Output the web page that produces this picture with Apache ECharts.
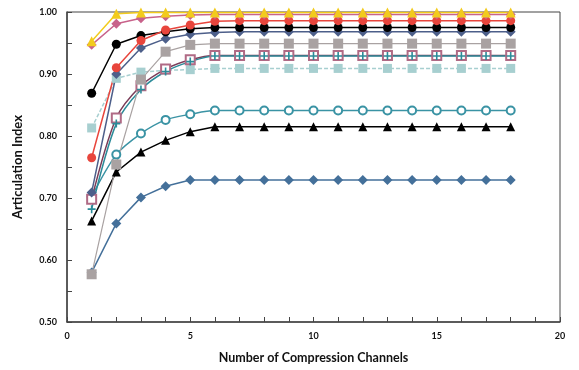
<!DOCTYPE html>
<html>
<head>
<meta charset="utf-8">
<script src="https://cdn.jsdelivr.net/npm/echarts@6/dist/echarts.min.js"></script>
<style>html,body{margin:0;padding:0;background:#fff;}#c{width:579px;height:370px;}</style>
</head>
<body>
<div id="c"></div>
<script>
var channels = [1,2,3,4,5,6,7,8,9,10,11,12,13,14,15,16,17,18];
var yellowTri   = [0.953,0.997,0.999,0.999,0.999,0.999,0.999,0.999,0.999,0.999,0.999,0.999,0.999,0.999,0.999,0.999,0.999,0.999];
var pinkDiamond = [0.947,0.981,0.990,0.993,0.995,0.996,0.996,0.996,0.996,0.996,0.996,0.996,0.996,0.996,0.996,0.996,0.996,0.996];
var redCircle   = [0.765,0.910,0.954,0.971,0.979,0.985,0.986,0.986,0.986,0.986,0.986,0.986,0.986,0.986,0.986,0.986,0.986,0.986];
var blackCircle = [0.869,0.948,0.962,0.968,0.973,0.975,0.975,0.975,0.975,0.975,0.975,0.975,0.975,0.975,0.975,0.975,0.975,0.975];
var slateDiamond= [0.709,0.900,0.942,0.957,0.964,0.967,0.968,0.968,0.968,0.968,0.968,0.968,0.968,0.968,0.968,0.968,0.968,0.968];
var graySquare  = [0.577,0.754,0.891,0.936,0.947,0.949,0.949,0.949,0.949,0.949,0.949,0.949,0.949,0.949,0.949,0.949,0.949,0.949];
var openSquare  = [0.698,0.829,0.881,0.908,0.923,0.930,0.930,0.930,0.930,0.930,0.930,0.930,0.930,0.930,0.930,0.930,0.930,0.930];
var tealPlus    = [0.682,0.820,0.875,0.904,0.920,0.929,0.929,0.929,0.929,0.929,0.929,0.929,0.929,0.929,0.929,0.929,0.929,0.929];
var lightSquare = [0.813,0.893,0.903,0.906,0.907,0.909,0.909,0.909,0.909,0.909,0.909,0.909,0.909,0.909,0.909,0.909,0.909,0.909];
var openCircle  = [0.702,0.770,0.804,0.826,0.835,0.841,0.841,0.841,0.841,0.841,0.841,0.841,0.841,0.841,0.841,0.841,0.841,0.841];
var blackTri    = [0.663,0.742,0.774,0.793,0.807,0.815,0.815,0.815,0.815,0.815,0.815,0.815,0.815,0.815,0.815,0.815,0.815,0.815];
var steelDiamond= [0.580,0.659,0.701,0.719,0.729,0.729,0.729,0.729,0.729,0.729,0.729,0.729,0.729,0.729,0.729,0.729,0.729,0.729];

function pts(vals){ return channels.map(function(x,i){ return [x, vals[i]]; }); }
var plusPath = 'path://M-1,-5H1V-1H5V1H1V5H-1V1H-5V-1H-1Z';

function mk(vals, color, symbol, size, opts){
  opts = opts || {};
  return {
    type:'line', data: pts(vals), symbol: symbol, symbolSize: size,
    smooth: opts.smooth || false,
    lineStyle:{ color: opts.lineColor || color, width: opts.width || 1.5, type: opts.dash || 'solid' },
    itemStyle:{ color: color, borderWidth: opts.bw || 0 },
    z: opts.z || 2
  };
}

var chart = echarts.init(document.getElementById('c'), null, {renderer:'canvas'});
var font = 'Lato, "Open Sans", sans-serif';
chart.setOption({
  animation:false,
  backgroundColor:'#fff',
  grid:{ left:67, right:19, top:12, bottom:48, show:true, borderColor:'#444', borderWidth:1 },
  xAxis:{
    type:'value', min:0, max:20, interval:1,
    name:'Number of Compression Channels', nameLocation:'middle', nameGap:29,
    nameTextStyle:{ fontFamily:font, fontWeight:'bold', fontSize:12.5, color:'#111' },
    axisLine:{ show:true, lineStyle:{ color:'#444', width:1.5 } },
    axisTick:{ show:true, inside:true, length:5, lineStyle:{ color:'#444' } },
    axisLabel:{ margin:10, fontFamily:font, fontWeight:'bold', fontSize:9, color:'#111',
      formatter:function(v){ return v % 5 === 0 ? String(v) : ''; } },
    splitLine:{ show:false }
  },
  yAxis:{
    type:'value', min:0.5, max:1.0, interval:0.05,
    name:'Articulation Index', nameLocation:'middle', nameGap:43, nameRotate:90,
    nameTextStyle:{ fontFamily:font, fontWeight:'bold', fontSize:13, color:'#111' },
    axisLine:{ show:true, lineStyle:{ color:'#444', width:1.5 } },
    axisTick:{ show:true, inside:true, length:5, lineStyle:{ color:'#444' } },
    axisLabel:{ margin:10, fontFamily:font, fontWeight:'bold', fontSize:9, color:'#111',
      formatter:function(v){ var r = Math.round(v*100); return r % 10 === 0 ? (r/100).toFixed(2) : ''; } },
    splitLine:{ show:false }
  },
  series:[
    mk(steelDiamond, '#44709a', 'diamond', 10),
    mk(blackTri, '#000000', 'triangle', 9),
    mk(openCircle, '#3a93a4', 'emptyCircle', 8, { smooth:0.3, bw:1 }),
    mk(lightSquare, '#a7cfd0', 'rect', 9, { dash:[4,2] }),
    mk(openSquare, '#b06a85', 'emptyRect', 9, { smooth:0.3, lineColor:'#7a3c58', bw:1 }),
    mk(tealPlus, '#2c8b99', plusPath, 8, { smooth:0.3 }),
    mk(graySquare, '#a9a2a2', 'rect', 10, { width:1.2 }),
    mk(slateDiamond, '#4d5f8a', 'diamond', 10),
    mk(blackCircle, '#000000', 'circle', 9),
    mk(redCircle, '#e8453c', 'circle', 9),
    mk(pinkDiamond, '#c8628a', 'diamond', 10),
    mk(yellowTri, '#f2cb1d', 'triangle', 10)
  ]
});
</script>
</body>
</html>
